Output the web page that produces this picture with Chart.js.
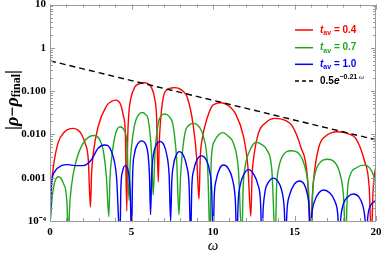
<!DOCTYPE html>
<html>
<head>
<meta charset="utf-8">
<script src="https://cdn.jsdelivr.net/npm/chart.js@4.4.1/dist/chart.umd.min.js"></script>
<style>
  html, body { margin: 0; padding: 0; background: #fff; }
</style>
</head>
<body>
<canvas id="chart" width="382" height="258"></canvas>
<script>
// omega values and |rho - rho_final|, one pair of arrays per curve
const omegaRed = [0, 0.18, 0.49, 0.9, 1.12, 1.41, 1.7, 1.95, 2.16, 2.35, 2.48,
  2.55, 2.65, 2.95, 3.46, 3.75, 4.04, 4.2, 4.35, 4.5, 4.62, 4.71,
  4.76, 4.83, 4.95, 5.21, 5.5, 5.82, 6.05, 6.25, 6.42, 6.54, 6.64,
  6.7, 6.76, 6.95, 7.26, 7.45, 7.67, 7.9, 8.15, 8.42, 8.79, 9.0, 9.14,
  9.22, 9.34, 9.51, 9.92, 10.15, 10.43, 10.75, 11.05, 11.36, 11.87, 12.14, 12.32,
  12.4, 12.48, 12.79, 13.3, 13.55, 13.82, 14.15, 14.5, 14.85, 15.38, 15.79, 15.99,
  16.08, 16.19, 16.5, 17.02, 17.3, 17.65, 18.0, 18.35, 18.76, 19.27, 19.58, 19.72,
  19.82, 20];
const rhoRed = [0.00028, 0.0015, 0.0063, 0.0115, 0.0131, 0.0138, 0.0127, 0.0098, 0.0062, 0.0026, 0.00021,
  0.0012, 0.0035, 0.015, 0.045, 0.057, 0.062, 0.058, 0.047, 0.027, 0.011, 0.00017,
  0.006, 0.028, 0.065, 0.125, 0.149, 0.156, 0.145, 0.115, 0.068, 0.025, 0.0008,
  0.006, 0.016, 0.072, 0.112, 0.118, 0.12, 0.115, 0.1, 0.072, 0.016, 0.0028, 0.00032,
  0.003, 0.008, 0.016, 0.044, 0.051, 0.054, 0.051, 0.043, 0.031, 0.009, 0.0018, 0.00013,
  0.0012, 0.0026, 0.0107, 0.0195, 0.0225, 0.0235, 0.0228, 0.0205, 0.016, 0.0052, 0.00105, 0.00004,
  0.0003, 0.00105, 0.0052, 0.0098, 0.011, 0.0115, 0.0112, 0.0101, 0.0081, 0.0026, 0.00062, 0.00004,
  0.0005, 0.002];

const omegaGreen = [0, 0.1, 0.25, 0.51, 0.82, 1.03, 1.13,
  1.2, 1.31, 1.62, 2.03, 2.4, 2.75, 3.05, 3.26, 3.46, 3.61,
  3.68, 3.77, 3.98, 4.29, 4.55, 4.72, 4.85,
  4.92, 5.0, 5.21, 5.42, 5.66, 5.86, 6.03, 6.23, 6.33,
  6.44, 6.64, 6.82, 7.05, 7.3, 7.56, 7.77, 7.91,
  8.0, 8.08, 8.28, 8.52, 8.8, 9.15, 9.41, 9.67, 9.82,
  9.87, 9.92, 10.13, 10.35, 10.58, 10.95, 11.25, 11.56, 11.77,
  11.85, 11.97, 12.28, 12.65, 13.0, 13.3, 13.61, 13.82,
  13.9, 14.02, 14.3, 14.8, 15.3, 15.6, 15.85, 16.03,
  16.12, 16.25, 16.55, 17.02, 17.45, 17.8, 18.0, 18.14,
  18.25, 18.4, 18.8, 19.31, 19.7, 20];
const rhoGreen = [0.00008, 0.00026, 0.00068, 0.00105, 0.00074, 0.0003, 0.00004,
  0.0002, 0.00062, 0.0026, 0.0063, 0.0088, 0.0094, 0.0075, 0.0044, 0.00105, 0.000126,
  0.001, 0.0026, 0.0089, 0.015, 0.0125, 0.006, 0.0003,
  0.0021, 0.0052, 0.018, 0.028, 0.032, 0.029, 0.0215, 0.0036, 0.0004,
  0.0036, 0.018, 0.027, 0.0295, 0.026, 0.0153, 0.0026, 0.00014,
  0.0009, 0.0026, 0.0107, 0.0163, 0.018, 0.015, 0.0089, 0.0018, 0.00004,
  0.0012, 0.0036, 0.0074, 0.0098, 0.011, 0.009, 0.0063, 0.0015, 0.00004,
  0.0006, 0.0018, 0.0044, 0.0066, 0.0058, 0.0044, 0.0015, 0.00004,
  0.0006, 0.0016, 0.0033, 0.0042, 0.0035, 0.002, 0.0006, 0.00004,
  0.0005, 0.0012, 0.0022, 0.00266, 0.0023, 0.0012, 0.0004, 0.00004,
  0.0005, 0.0011, 0.0017, 0.00195, 0.0015, 0.0008];

const omegaBlue = [0, 0.08, 0.29, 0.7, 1.1, 1.52, 2.03, 2.54, 2.95, 3.36, 3.77, 4.08, 4.29,
  4.35, 4.45, 4.63, 4.8, 4.92, 5.0,
  5.07, 5.18, 5.38, 5.62, 5.86, 6.02, 6.1, 6.17,
  6.24, 6.35, 6.53, 6.74, 6.98, 7.17, 7.31, 7.4,
  7.47, 7.58, 7.74, 7.93, 8.18, 8.38, 8.53, 8.63,
  8.7, 8.82, 9.02, 9.31, 9.58, 9.78, 9.92, 10.0,
  10.08, 10.2, 10.4, 10.64, 10.95, 11.2, 11.37, 11.46,
  11.55, 11.68, 11.9, 12.18, 12.5, 12.75, 12.91, 13.0,
  13.08, 13.2, 13.42, 13.7, 14.0, 14.22, 14.37, 14.45,
  14.55, 14.7, 14.98, 15.3, 15.6, 15.8, 15.9, 15.97,
  16.07, 16.25, 16.5, 16.8, 17.15, 17.45, 17.65, 17.75,
  17.85, 18.0, 18.3, 18.6, 18.95, 19.2, 19.32, 19.4,
  19.5, 19.7, 20];
const rhoBlue = [0.00005, 0.00062, 0.00138, 0.0019, 0.002, 0.0019, 0.0019, 0.0026, 0.0048, 0.0057, 0.004, 0.00105, 0.00004,
  0.0006, 0.0014, 0.0019, 0.0014, 0.0005, 0.00004,
  0.0012, 0.0035, 0.006, 0.0071, 0.006, 0.0033, 0.0012, 0.00014,
  0.0012, 0.0035, 0.0058, 0.0069, 0.0058, 0.0033, 0.0011, 0.0001,
  0.0008, 0.002, 0.0033, 0.004, 0.0033, 0.0019, 0.0007, 0.00004,
  0.0006, 0.0015, 0.0026, 0.0032, 0.0026, 0.0015, 0.0005, 0.00004,
  0.0004, 0.0009, 0.0016, 0.00196, 0.0016, 0.0009, 0.0003, 0.00004,
  0.0003, 0.0007, 0.0012, 0.00154, 0.0012, 0.0007, 0.0003, 0.00004,
  0.0002, 0.0005, 0.0008, 0.00098, 0.0008, 0.0005, 0.0002, 0.00004,
  0.0002, 0.0004, 0.0007, 0.00084, 0.0007, 0.0004, 0.0002, 0.00004,
  0.00015, 0.0003, 0.00045, 0.00052, 0.00045, 0.0003, 0.00015, 0.00004,
  0.00013, 0.00025, 0.00037, 0.00042, 0.00036, 0.00022, 0.00012, 0.00004,
  0.00013, 0.00024, 0.00029];

// dashed envelope 0.5 e^(-0.21 w), end points only (straight on log axis)
const omegaEnv = [0, 20];
const rhoEnv = [0.5, 0.0075];

const tavLabels = ['0.4', '0.7', '1.0'];
const xTickValues = [0, 5, 10, 15, 20];
const yTickValues = [0.0001, 0.001, 0.01, 0.1, 1, 10];
const yTickLabels = ['10\u207B\u2074', '0.001', '0.010', '0.100', '1', '10'];

const RED = '#ff0000', GREEN = '#1fa81f', BLUE = '#0000ff';
const serif = '"Liberation Serif", "Times New Roman", serif';
const sans = '"Liberation Sans", Arial, sans-serif';

const pts = (xs, ys) => xs.map((x, i) => ({ x: x, y: ys[i] }));

// frame with inward ticks on all four sides
const frameTicks = {
  id: 'frameTicks',
  afterDatasetsDraw(chart) {
    const { ctx, chartArea: a, scales: { x, y } } = chart;
    ctx.save();
    ctx.strokeStyle = '#9a9a9a';
    ctx.lineWidth = 1;
    ctx.beginPath();
    for (let v = 0; v <= 20; v++) {
      const px = Math.round(x.getPixelForValue(v)) + 0.5;
      const len = v % 5 === 0 ? 5 : 3;
      ctx.moveTo(px, a.bottom); ctx.lineTo(px, a.bottom - len);
      ctx.moveTo(px, a.top); ctx.lineTo(px, a.top + len);
    }
    for (let k = -4; k <= 0; k++) {
      for (let m = 1; m <= 9; m++) {
        const py = Math.round(y.getPixelForValue(m * Math.pow(10, k))) + 0.5;
        const len = m === 1 ? 5 : 3;
        ctx.moveTo(a.left, py); ctx.lineTo(a.left + len, py);
        ctx.moveTo(a.right, py); ctx.lineTo(a.right - len, py);
      }
    }
    ctx.stroke();
    ctx.strokeRect(Math.round(a.left) + 0.5, Math.round(a.top) + 0.5,
      Math.round(a.right - a.left) - 1, Math.round(a.bottom - a.top) - 1);
    ctx.restore();
  }
};

// draws a run of [text, font, dy] pieces starting at x
function drawRun(ctx, pieces, x, y) {
  for (const [t, f, dy] of pieces) {
    ctx.font = f;
    ctx.fillText(t, x, y + dy);
    x += ctx.measureText(t).width;
  }
  return x;
}
function runWidth(ctx, pieces) {
  let w = 0;
  for (const [t, f] of pieces) { ctx.font = f; w += ctx.measureText(t).width; }
  return w;
}

const labelsPlugin = {
  id: 'labelsPlugin',
  afterDraw(chart) {
    const ctx = chart.ctx;
    ctx.save();
    ctx.textBaseline = 'middle';
    ctx.textAlign = 'left';

    // y axis title |rho - rho_final|
    const big = 'bold 18px ' + serif, bigI = 'bold italic 18px ' + serif, small = 'bold 12px ' + serif;
    const title = [['|', big, 0], ['\u03C1', bigI, 0], ['\u2212', big, 0], ['\u03C1', bigI, 0], ['final', small, 4], ['|', big, 0]];
    ctx.translate(13, 100);
    ctx.rotate(-Math.PI / 2);
    ctx.fillStyle = '#000';
    drawRun(ctx, title, -runWidth(ctx, title) / 2, 0);
    ctx.setTransform(1, 0, 0, 1, 0, 0);

    // legend
    const rows = [30, 47.7, 64.3, 81];
    const cols = [RED, GREEN, BLUE, '#000'];
    const f = 'bold 10px ' + sans, fi = 'bold italic 10px ' + sans, fs = 'bold 7px ' + sans;
    rows.forEach((ry, i) => {
      ctx.strokeStyle = cols[i];
      ctx.lineWidth = 1.5;
      ctx.setLineDash(i === 3 ? [4, 3] : []);
      ctx.beginPath();
      ctx.moveTo(295, ry); ctx.lineTo(313, ry);
      ctx.stroke();
      ctx.setLineDash([]);
      ctx.fillStyle = cols[i];
      if (i < 3) {
        drawRun(ctx, [['t', fi, 0], ['av', fs, 3], [' = ' + tavLabels[i], f, 0]], 320, ry);
      } else {
        drawRun(ctx, [['0.5', f, 0], ['e', fi, 0], ['\u22120.21 ', fs, -4], ['\u03C9', 'italic 7px ' + serif, -4]], 320, ry);
      }
    });
    ctx.restore();
  }
};

new Chart(document.getElementById('chart'), {
  type: 'line',
  data: {
    datasets: [
      { label: 't_av = 0.4', data: pts(omegaRed, rhoRed), borderColor: RED, order: 4 },
      { label: 't_av = 0.7', data: pts(omegaGreen, rhoGreen), borderColor: GREEN, order: 3 },
      { label: 't_av = 1.0', data: pts(omegaBlue, rhoBlue), borderColor: BLUE, order: 2 },
      { label: '0.5e^-0.21w', data: pts(omegaEnv, rhoEnv), borderColor: '#000', borderDash: [6, 4], order: 1, cubicInterpolationMode: 'default', tension: 0 }
    ]
  },
  options: {
    responsive: false,
    animation: false,
    devicePixelRatio: 1,
    layout: { padding: { top: 4.5, right: 6, left: 0, bottom: 0 } },
    elements: {
      point: { radius: 0 },
      line: { borderWidth: 1.4, cubicInterpolationMode: 'monotone', fill: false }
    },
    plugins: { legend: { display: false }, tooltip: { enabled: false } },
    scales: {
      x: {
        type: 'linear', min: 0, max: 20,
        afterBuildTicks: (s) => { s.ticks = xTickValues.map(v => ({ value: v })); },
        afterFit: (s) => { s.height = 37; s.paddingLeft = 0; s.paddingRight = 0; },
        ticks: { autoSkip: false, maxRotation: 0, padding: 5, color: '#000', font: { family: serif, size: 11, weight: 'bold' } },
        grid: { display: false, drawTicks: false },
        border: { display: false },
        title: { display: true, text: '\u03C9', color: '#000', padding: { top: 0, bottom: 3 }, font: { family: serif, size: 15, style: 'italic' } }
      },
      y: {
        type: 'logarithmic', min: 0.0001, max: 10,
        afterBuildTicks: (s) => { s.ticks = yTickValues.map(v => ({ value: v })); },
        afterFit: (s) => { s.width = 50; s.paddingTop = 0; s.paddingBottom = 0; },
        ticks: { autoSkip: false, padding: 4, color: '#000', font: { family: serif, size: 11, weight: 'bold' },
          callback: (v, i) => yTickLabels[i] },
        grid: { display: false, drawTicks: false },
        border: { display: false }
      }
    }
  },
  plugins: [frameTicks, labelsPlugin]
});
</script>
</body>
</html>
